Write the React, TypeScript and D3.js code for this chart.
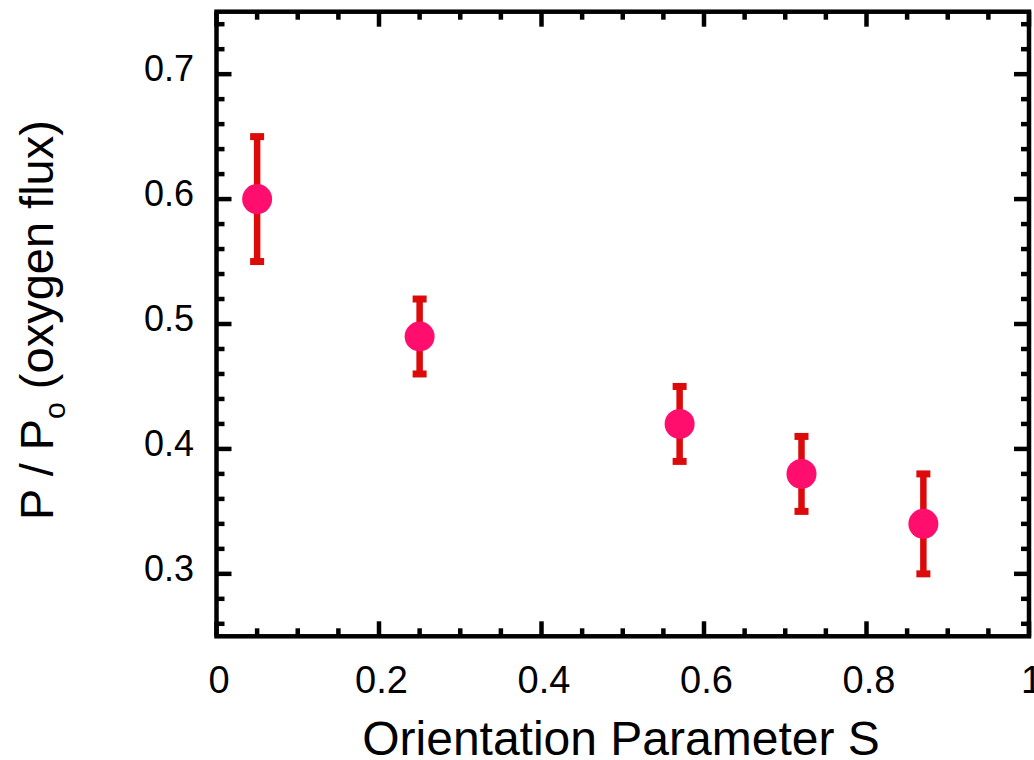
import React from "react";
import * as d3 from "d3";

const sValues = [0.05, 0.25, 0.57, 0.72, 0.87];
const pRatio = [0.6, 0.49, 0.42, 0.38, 0.34];
const errLow = [0.55, 0.46, 0.39, 0.35, 0.30];
const errHigh = [0.65, 0.52, 0.45, 0.41, 0.38];
const xTickLabels = ["0", "0.2", "0.4", "0.6", "0.8", "1"];
const xTickValues = [0, 0.2, 0.4, 0.6, 0.8, 1];
const yTickValues = [0.3, 0.4, 0.5, 0.6, 0.7];
const yTickLabels = ["0.3", "0.4", "0.5", "0.6", "0.7"];

const W = 1034;
const H = 760;
const L = 216.5, R = 1029, T = 11.7, B = 636.3;

export default function App() {
  const x = d3.scaleLinear().domain([0, 1]).range([L, R]);
  const y = d3.scaleLinear().domain([0.25, 0.75]).range([B, T]);
  const xMinor = d3.range(0, 1.0001, 0.05).filter((v) => !xTickValues.some((t) => Math.abs(t - v) < 1e-6));
  const yMinor = d3.range(0.26, 0.75, 0.02).map((v) => +v.toFixed(3)).filter((v) => !yTickValues.some((t) => Math.abs(t - v) < 1e-6));
  const font = "Liberation Sans, Arial, Helvetica, sans-serif";
  const tw = 4.5;
  const major = 15;
  const minor = 8;
  const errColor = "#dc0a0a";
  const dotColor = "#ff0e6e";

  return (
    <svg width={W} height={H} style={{ position: "absolute", left: 0, top: 0, overflow: "visible" }} fontFamily={font}>
      <rect x={0} y={0} width={W} height={H} fill="#fff" />
      {xTickValues.map((v) => (
        <g key={"xm" + v}>
          <line x1={x(v)} x2={x(v)} y1={B} y2={B - major} stroke="#000" strokeWidth={tw} />
          <line x1={x(v)} x2={x(v)} y1={T} y2={T + major} stroke="#000" strokeWidth={tw} />
        </g>
      ))}
      {xMinor.map((v) => (
        <g key={"xn" + v}>
          <line x1={x(v)} x2={x(v)} y1={B} y2={B - minor} stroke="#000" strokeWidth={tw} />
          <line x1={x(v)} x2={x(v)} y1={T} y2={T + minor} stroke="#000" strokeWidth={tw} />
        </g>
      ))}
      {yTickValues.map((v) => (
        <g key={"ym" + v}>
          <line x1={L} x2={L + major} y1={y(v)} y2={y(v)} stroke="#000" strokeWidth={tw} />
          <line x1={R} x2={R - major} y1={y(v)} y2={y(v)} stroke="#000" strokeWidth={tw} />
        </g>
      ))}
      {yMinor.map((v) => (
        <g key={"yn" + v}>
          <line x1={L} x2={L + minor} y1={y(v)} y2={y(v)} stroke="#000" strokeWidth={tw} />
          <line x1={R} x2={R - minor} y1={y(v)} y2={y(v)} stroke="#000" strokeWidth={tw} />
        </g>
      ))}
      <rect x={L} y={T} width={R - L} height={B - T} fill="none" stroke="#000" strokeWidth={tw} />
      {xTickValues.map((v, i) => (
        <text key={"xl" + v} x={x(v) + 2.5} y={693} textAnchor="middle" fontSize={38} fill="#000">
          {xTickLabels[i]}
        </text>
      ))}
      {yTickValues.map((v, i) => (
        <text key={"yl" + v} x={194} y={y(v) + 7} textAnchor="end" fontSize={36} fill="#000">
          {yTickLabels[i]}
        </text>
      ))}
      <text x={621} y={755} textAnchor="middle" fontSize={48} fill="#000">
        Orientation Parameter S
      </text>
      <text transform={`translate(53,320) rotate(-90)`} textAnchor="middle" fontSize={47} fill="#000">
        P / P
        <tspan fontSize={30} dy={12}>o</tspan>
        <tspan dy={-12}> (oxygen flux)</tspan>
      </text>
      {sValues.map((s, i) => (
        <g key={"e" + i}>
          <line x1={x(s)} x2={x(s)} y1={y(errLow[i])} y2={y(errHigh[i])} stroke={errColor} strokeWidth={6.5} />
          <line x1={x(s) - 7} x2={x(s) + 7} y1={y(errLow[i])} y2={y(errLow[i])} stroke={errColor} strokeWidth={7} />
          <line x1={x(s) - 7} x2={x(s) + 7} y1={y(errHigh[i])} y2={y(errHigh[i])} stroke={errColor} strokeWidth={7} />
        </g>
      ))}
      {sValues.map((s, i) => (
        <circle key={"c" + i} cx={x(s)} cy={y(pRatio[i])} r={15} fill={dotColor} />
      ))}
    </svg>
  );
}
